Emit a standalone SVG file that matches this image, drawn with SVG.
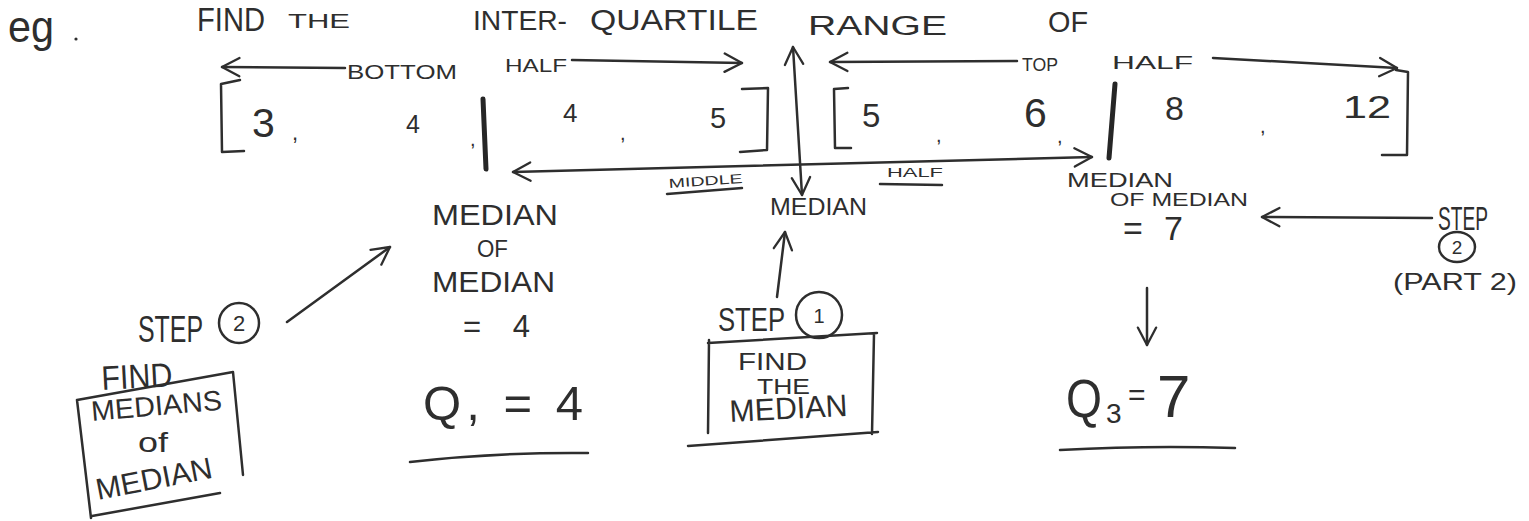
<svg xmlns="http://www.w3.org/2000/svg" width="1529" height="521" viewBox="0 0 1529 521">
<style>
.t{font-family:"Liberation Sans",Arial,sans-serif;fill:#2e2e2e;}
.ln{fill:none;stroke:#2e2e2e;stroke-width:2.5;stroke-linecap:round;stroke-linejoin:round;}
.bar{fill:none;stroke:#262626;stroke-width:5;stroke-linecap:round;}
.ar{fill:none;stroke:#2e2e2e;stroke-width:2.5;stroke-linecap:round;marker-end:url(#ah);}
.ar2{fill:none;stroke:#2e2e2e;stroke-width:2.5;stroke-linecap:round;marker-end:url(#ah);marker-start:url(#ah);}
</style>
<defs>
<marker id="ah" viewBox="0 0 24 24" refX="22" refY="12" markerWidth="22" markerHeight="22" markerUnits="userSpaceOnUse" orient="auto-start-reverse">
<path d="M3,2 L22,12 L3,22" fill="none" stroke="#2e2e2e" stroke-width="2.5" stroke-linecap="round" stroke-linejoin="round"/>
</marker>
</defs>
<rect width="1529" height="521" fill="#ffffff"/>

<g id="title">
<text class="t" x="8" y="42" font-size="44" textLength="46" lengthAdjust="spacingAndGlyphs">eg</text>
<circle cx="76" cy="39" r="1.6" fill="#2e2e2e"/>
<text class="t" x="197" y="31" font-size="33" textLength="68" lengthAdjust="spacingAndGlyphs">FIND</text>
<text class="t" x="288" y="28" font-size="21" textLength="62" lengthAdjust="spacingAndGlyphs">THE</text>
<text class="t" x="473" y="30" font-size="27" textLength="94" lengthAdjust="spacingAndGlyphs">INTER-</text>
<text class="t" x="590" y="30" font-size="30" textLength="168" lengthAdjust="spacingAndGlyphs">QUARTILE</text>
<text class="t" x="808" y="35" font-size="27" textLength="139" lengthAdjust="spacingAndGlyphs">RANGE</text>
<text class="t" x="1048" y="32" font-size="30" textLength="40" lengthAdjust="spacingAndGlyphs">OF</text>
</g>

<g id="bottom-half-label">
<text class="t" x="347" y="79" font-size="21" textLength="110" lengthAdjust="spacingAndGlyphs">BOTTOM</text>
<text class="t" x="505" y="72" font-size="19" textLength="62" lengthAdjust="spacingAndGlyphs">HALF</text>
</g>

<g id="top-half-label">
<text class="t" x="1022" y="71" font-size="19" textLength="36" lengthAdjust="spacingAndGlyphs">TOP</text>
<text class="t" x="1112" y="69" font-size="18" textLength="81" lengthAdjust="spacingAndGlyphs">HALF</text>
</g>

<g id="data-list">
<path class="ln" d="M240,80 L221,84 L222,152 L244,151"/>
<text class="t" x="252" y="137" font-size="41">3</text>
<text class="t" x="292" y="140" font-size="22">,</text>
<text class="t" x="406" y="133" font-size="25">4</text>
<text class="t" x="470" y="146" font-size="20">,</text>
<path class="bar" d="M483,99 L486,169"/>
<text class="t" x="563" y="122" font-size="26">4</text>
<text class="t" x="620" y="140" font-size="20">,</text>
<text class="t" x="710" y="128" font-size="29">5</text>
<path class="ln" d="M742,89 L768,88 L767,150 L740,152"/>
<path class="ln" d="M848,88 L834,89 L835,148 L851,148"/>
<text class="t" x="862" y="127" font-size="33">5</text>
<text class="t" x="936" y="142" font-size="20">,</text>
<text class="t" x="1024" y="127" font-size="41">6</text>
<text class="t" x="1057" y="143" font-size="20">,</text>
<path class="bar" d="M1115,84 L1109,158"/>
<text class="t" x="1165" y="120" font-size="34">8</text>
<text class="t" x="1260" y="133" font-size="20">,</text>
<text class="t" x="1343" y="118" font-size="32" textLength="48" lengthAdjust="spacingAndGlyphs">12</text>
<path class="ln" d="M1396,70 L1408,72 L1407,155 L1382,155"/>
</g>

<g id="middle-half-label">
<text class="t" x="669" y="188" font-size="13" textLength="74" lengthAdjust="spacingAndGlyphs" transform="rotate(-4 669 188)">MIDDLE</text>
<path class="ln" d="M667,194 L742,188" stroke-width="2"/>
<text class="t" x="887" y="177" font-size="13" textLength="56" lengthAdjust="spacingAndGlyphs">HALF</text>
<path class="ln" d="M880,184 L942,185" stroke-width="2"/>
</g>

<g id="median-center">
<text class="t" x="770" y="215" font-size="24" textLength="97" lengthAdjust="spacingAndGlyphs">MEDIAN</text>
</g>

<g id="q1-median">
<text class="t" x="432" y="225" font-size="29" textLength="126" lengthAdjust="spacingAndGlyphs">MEDIAN</text>
<text class="t" x="477" y="257" font-size="23" textLength="31" lengthAdjust="spacingAndGlyphs">OF</text>
<text class="t" x="432" y="292" font-size="29" textLength="123" lengthAdjust="spacingAndGlyphs">MEDIAN</text>
<text class="t" x="463" y="337" font-size="31" textLength="67" lengthAdjust="spacing">= 4</text>
</g>

<g id="q1">
<text class="t" x="423" y="420" font-size="49" textLength="160" lengthAdjust="spacing">Q, = 4</text>
<path class="ln" d="M410,462 Q500,452 588,453"/>
</g>

<g id="q3-median">
<text class="t" x="1067" y="187" font-size="21" textLength="106" lengthAdjust="spacingAndGlyphs">MEDIAN</text>
<text class="t" x="1110" y="206" font-size="19" textLength="138" lengthAdjust="spacingAndGlyphs">OF MEDIAN</text>
<text class="t" x="1123" y="240" font-size="34" textLength="60" lengthAdjust="spacing">= 7</text>
</g>

<g id="q3">
<text class="t" x="1066" y="417" font-size="54" textLength="36" lengthAdjust="spacingAndGlyphs">Q</text>
<text class="t" x="1106" y="423" font-size="28">3</text>
<text class="t" x="1128" y="405" font-size="30">=</text>
<text class="t" x="1157" y="417" font-size="60">7</text>
<path class="ln" d="M1060,450 Q1150,445 1235,448"/>
</g>

<g id="step1">
<text class="t" x="718" y="331" font-size="33" textLength="67" lengthAdjust="spacingAndGlyphs">STEP</text>
<circle class="ln" cx="819" cy="315" r="23"/>
<text class="t" x="819" y="323" font-size="20" text-anchor="middle">1</text>
<path class="ln" d="M708,343 L877,333 M709,340 L708,433 M874,334 L872,434 M688,446 L878,432"/>
<text class="t" x="738" y="370" font-size="24" textLength="69" lengthAdjust="spacingAndGlyphs">FIND</text>
<text class="t" x="757" y="394" font-size="22" textLength="53" lengthAdjust="spacingAndGlyphs">THE</text>
<text class="t" x="730" y="422" font-size="31" textLength="118" lengthAdjust="spacingAndGlyphs" transform="rotate(-3 730 422)">MEDIAN</text>
</g>

<g id="step2-left">
<text class="t" x="138" y="342" font-size="37" textLength="65" lengthAdjust="spacingAndGlyphs">STEP</text>
<circle class="ln" cx="239" cy="323" r="20"/>
<text class="t" x="239" y="331" font-size="22" text-anchor="middle">2</text>
</g>

<g id="step2-box">
<text class="t" x="102" y="390" font-size="34" textLength="71" lengthAdjust="spacingAndGlyphs" transform="rotate(-3 102 390)">FIND</text>
<path class="ln" d="M77,400 L233,372 M77,400 L91,518 M233,372 L243,475 M92,516 L220,493"/>
<text class="t" x="92" y="421" font-size="28" textLength="131" lengthAdjust="spacingAndGlyphs" transform="rotate(-5 92 421)">MEDIANS</text>
<text class="t" x="138" y="452" font-size="27" textLength="30" lengthAdjust="spacingAndGlyphs">of</text>
<text class="t" x="98" y="500" font-size="30" textLength="118" lengthAdjust="spacingAndGlyphs" transform="rotate(-11 98 500)">MEDIAN</text>
</g>

<g id="step2-right">
<text class="t" x="1438" y="230" font-size="33" textLength="50" lengthAdjust="spacingAndGlyphs">STEP</text>
<ellipse class="ln" cx="1457" cy="247" rx="18" ry="15"/>
<text class="t" x="1457" y="254" font-size="19" text-anchor="middle">2</text>
<text class="t" x="1393" y="290" font-size="24" textLength="124" lengthAdjust="spacingAndGlyphs">(PART 2)</text>
</g>

<g id="connectors">
<path class="ar" d="M345,68 L222,67"/>
<path class="ar" d="M572,60 L742,63"/>
<path class="ar2" d="M802,195 L793,47"/>
<path class="ar" d="M1017,61 L830,62"/>
<path class="ar" d="M1213,58 L1397,68"/>
<path class="ar2" d="M513,172 L1092,157"/>
<path class="ar" d="M287,322 L390,247"/>
<path class="ar" d="M777,297 L785,232"/>
<path class="ar" d="M1432,218 L1262,217"/>
<path class="ar" d="M1147,288 L1147,345"/>
</g>
</svg>
